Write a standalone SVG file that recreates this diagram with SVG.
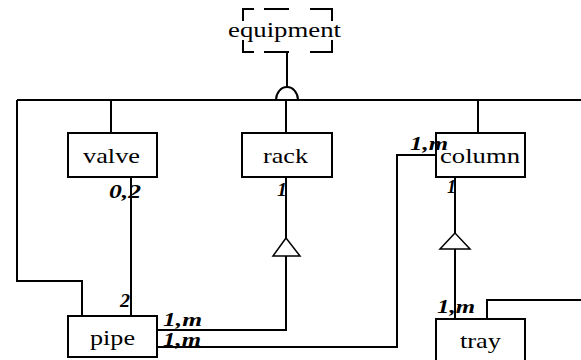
<svg xmlns="http://www.w3.org/2000/svg" width="581" height="360" viewBox="0 0 581 360">
<style>
.box{fill:#fff;stroke:#000;stroke-width:2}
.ln{fill:none;stroke:#000;stroke-width:2}
.tri{fill:#fff;stroke:#000;stroke-width:1.5}
text{font-family:'Liberation Serif',Tinos,'Times New Roman',Times,serif;fill:#000}
.t{font-size:21px}
.lb{font-size:19px;font-weight:bold;font-style:italic}
</style>
<g id="connectors">
<path class="ln" d="M287,52 V87"/>
<path class="ln" d="M17,100 H581"/>
<path class="ln" d="M276,100 A11,13 0 0 1 298,100"/>
<path class="ln" d="M17,100 V281 H82 V316"/>
<path class="ln" d="M111,100 V133"/>
<path class="ln" d="M286,100 V133"/>
<path class="ln" d="M478,100 V133"/>
<path class="ln" d="M131,177 V316"/>
<path class="ln" d="M286,177 V238"/>
<polygon class="tri" points="286,238 273,256 300,256"/>
<path class="ln" d="M286,256 V330 H157"/>
<path class="ln" d="M157,347 H397 V155 H436"/>
<path class="ln" d="M455,177 V233"/>
<polygon class="tri" points="455,233 440,249 470,249"/>
<path class="ln" d="M455,249 V319"/>
<path class="ln" d="M487,319 V300 H581"/>
</g>
<g id="equipment">
<path class="ln" d="M243,21 V9 H254 M264,9 H289 M310,9 H321 H332 V21 M243,40 V52 H254 M264,52 H289 M310,52 H332 V40"/>
<text class="t" x="228" y="37" textLength="113" lengthAdjust="spacingAndGlyphs">equipment</text>
</g>
<g id="valve">
<rect class="box" x="68" y="133" width="89" height="44"/>
<text class="t" x="83" y="163" textLength="57" lengthAdjust="spacingAndGlyphs">valve</text>
</g>
<g id="rack">
<rect class="box" x="242" y="133" width="90" height="44"/>
<text class="t" x="263" y="163" textLength="45" lengthAdjust="spacingAndGlyphs">rack</text>
</g>
<g id="column">
<rect class="box" x="436" y="133" width="89" height="44"/>
<text class="t" x="440" y="163" textLength="80" lengthAdjust="spacingAndGlyphs">column</text>
</g>
<g id="pipe">
<rect class="box" x="68" y="316" width="89" height="41"/>
<text class="t" x="90" y="345" textLength="45" lengthAdjust="spacingAndGlyphs">pipe</text>
</g>
<g id="tray">
<rect class="box" x="436" y="319" width="89" height="45"/>
<text class="t" x="460" y="348" textLength="41" lengthAdjust="spacingAndGlyphs">tray</text>
</g>
<g id="labels">
<text class="lb" x="109" y="198" textLength="32" lengthAdjust="spacingAndGlyphs">0,2</text>
<text class="lb" x="277" y="196" textLength="10" lengthAdjust="spacingAndGlyphs">1</text>
<text class="lb" x="120" y="307" textLength="10" lengthAdjust="spacingAndGlyphs">2</text>
<text class="lb" x="163" y="326" textLength="39" lengthAdjust="spacingAndGlyphs">1,m</text>
<text class="lb" x="163" y="346" textLength="38" lengthAdjust="spacingAndGlyphs">1,m</text>
<text class="lb" x="410" y="150" textLength="38" lengthAdjust="spacingAndGlyphs">1,m</text>
<text class="lb" x="447" y="193" textLength="9" lengthAdjust="spacingAndGlyphs">1</text>
<text class="lb" x="437" y="313" textLength="38" lengthAdjust="spacingAndGlyphs">1,m</text>
</g>
</svg>
